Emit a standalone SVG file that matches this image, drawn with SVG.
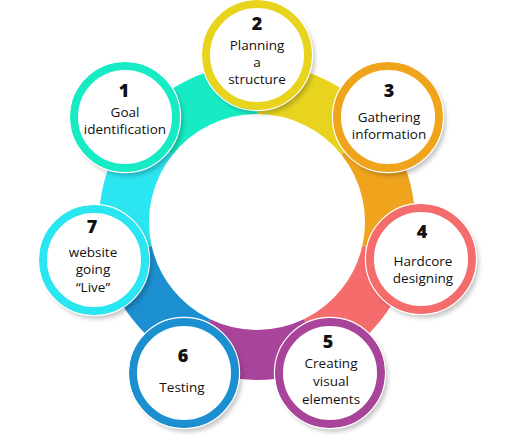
<svg xmlns="http://www.w3.org/2000/svg" width="520" height="436" viewBox="0 0 520 436">
<defs>
<filter id="sh" x="-20%" y="-20%" width="150%" height="150%">
<feDropShadow dx="3" dy="4" stdDeviation="2" flood-color="#000" flood-opacity="0.22"/>
</filter>
<style>
.seg{fill:none;stroke-width:50;stroke-linecap:butt}
.ring{fill:#fff;stroke-width:8;filter:url(#sh)}
.edge{fill:none;stroke:#fff;stroke-width:1.2}
.num{font-family:"Open Sans","DejaVu Sans",sans-serif;font-weight:800;font-size:18px;fill:#111;text-anchor:middle}
.lbl{font-family:"Open Sans","DejaVu Sans",sans-serif;font-size:13.5px;fill:#111;text-anchor:middle}
</style>
</defs>
<rect width="520" height="436" fill="#fff"/>
<g id="connectors">
<path class="seg" stroke="#16EBC4" d="M153.02 139.07 A133 133 0 0 1 257 89"/>
<path class="seg" stroke="#E8D41F" d="M257 89 A133 133 0 0 1 360.98 139.07"/>
<path class="seg" stroke="#F0A41D" d="M360.98 139.07 A133 133 0 0 1 386.66 251.59"/>
<path class="seg" stroke="#F46C6C" d="M386.66 251.59 A133 133 0 0 1 314.71 341.83"/>
<path class="seg" stroke="#A8449A" d="M314.71 341.83 A133 133 0 0 1 199.29 341.83"/>
<path class="seg" stroke="#1B8FD0" d="M199.29 341.83 A133 133 0 0 1 127.34 251.59"/>
<path class="seg" stroke="#2BE6F1" d="M127.34 251.59 A133 133 0 0 1 153.02 139.07"/>
</g>
<g id="node1">
<circle class="ring" cx="125" cy="117" r="51" stroke="#16EBC4"/>
<circle class="edge" cx="125" cy="117" r="55.6"/>
<text class="num" x="124" y="97">1</text>
<text class="lbl" x="125" y="117">Goal</text>
<text class="lbl" x="125" y="134">identification</text>
</g>
<g id="node2">
<circle class="ring" cx="257" cy="55" r="51" stroke="#E8D41F"/>
<circle class="edge" cx="257" cy="55" r="55.6"/>
<text class="num" x="257" y="30">2</text>
<text class="lbl" x="257" y="50">Planning</text>
<text class="lbl" x="257" y="67">a</text>
<text class="lbl" x="257" y="84">structure</text>
</g>
<g id="node3">
<circle class="ring" cx="388" cy="117" r="51" stroke="#F0A41D"/>
<circle class="edge" cx="388" cy="117" r="55.6"/>
<text class="num" x="389" y="97">3</text>
<text class="lbl" x="389" y="122">Gathering</text>
<text class="lbl" x="389" y="139">information</text>
</g>
<g id="node4">
<circle class="ring" cx="421" cy="259" r="51" stroke="#F46C6C"/>
<circle class="edge" cx="421" cy="259" r="55.6"/>
<text class="num" x="422" y="238">4</text>
<text class="lbl" x="423" y="266">Hardcore</text>
<text class="lbl" x="423" y="283">designing</text>
</g>
<g id="node5">
<circle class="ring" cx="330" cy="373" r="51" stroke="#A8449A"/>
<circle class="edge" cx="330" cy="373" r="55.6"/>
<text class="num" x="328" y="348">5</text>
<text class="lbl" x="331" y="368">Creating</text>
<text class="lbl" x="331" y="386">visual</text>
<text class="lbl" x="331" y="404">elements</text>
</g>
<g id="node6">
<circle class="ring" cx="184" cy="373" r="51" stroke="#1B8FD0"/>
<circle class="edge" cx="184" cy="373" r="55.6"/>
<text class="num" x="183" y="362">6</text>
<text class="lbl" x="182" y="392">Testing</text>
</g>
<g id="node7">
<circle class="ring" cx="94" cy="260" r="51" stroke="#2BE6F1"/>
<circle class="edge" cx="94" cy="260" r="55.6"/>
<text class="num" x="92" y="233">7</text>
<text class="lbl" x="93" y="257">website</text>
<text class="lbl" x="93" y="274">going</text>
<text class="lbl" x="93" y="292">“Live”</text>
</g>
</svg>
